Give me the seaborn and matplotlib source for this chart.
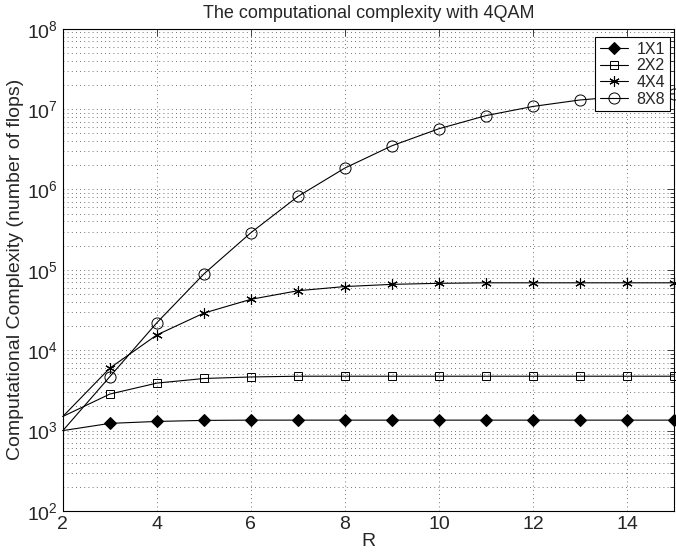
import numpy as np
import pandas as pd
import matplotlib
matplotlib.use("Agg")
import matplotlib.pyplot as plt
import seaborn as sns
from matplotlib.ticker import LogLocator, NullFormatter

R = [2, 3, 4, 5, 6, 7, 8, 9, 10, 11, 12, 13, 14, 15]
c1x1 = [1000, 1230, 1300, 1340, 1350, 1350, 1350, 1350, 1350, 1350, 1350, 1350, 1350, 1350]
c2x2 = [1500, 2850, 3900, 4450, 4650, 4750, 4750, 4750, 4750, 4750, 4750, 4750, 4750, 4750]
c4x4 = [1500, 6000, 15500, 29000, 43000, 55000, 62000, 66000, 68000, 69000, 69000, 69000, 69000, 69000]
c8x8 = [1000, 4700, 22000, 89000, 2.9e5, 8.2e5, 1.85e6, 3.5e6, 5.7e6, 8.3e6, 1.08e7, 1.3e7, 1.45e7, 1.55e7]
labels = ["1X1", "2X2", "4X4", "8X8"]

sns.set_style("white")
plt.rcParams['font.family'] = ['Liberation Sans', 'DejaVu Sans']
plt.rcParams['mathtext.default'] = 'regular'

fig = plt.figure(figsize=(6.76, 5.53), dpi=100)
ax = fig.add_axes([0.093, 0.076, 0.904, 0.872])

series = [c1x1, c2x2, c4x4, c8x8]
styles = [
    dict(marker='D', markersize=6.5, markerfacecolor='black', markeredgecolor='black'),
    dict(marker='s', markersize=5.5, markerfacecolor='none', markeredgecolor='black', markeredgewidth=0.7),
    dict(marker=(6, 2, 0), markersize=7.5, markeredgecolor='black', markeredgewidth=0.8),
    dict(marker='o', markersize=8, markerfacecolor='none', markeredgecolor='black', markeredgewidth=0.7),
]
for lab, vals, st in zip(labels, series, styles):
    df = pd.DataFrame({"R": R, "flops": vals})
    sns.lineplot(data=df, x="R", y="flops", ax=ax, color='black', linewidth=0.8,
                 label=lab, markevery=list(range(1, len(R))), clip_on=False, **st)

ax.set_yscale('log')
ax.set_xlim(2, 15)
ax.set_ylim(1e2, 1e8)
ax.set_xticks([2, 4, 6, 8, 10, 12, 14])
ax.yaxis.set_major_locator(LogLocator(base=10, numticks=10))
ax.yaxis.set_minor_locator(LogLocator(base=10, subs=np.arange(2, 10), numticks=100))
ax.yaxis.set_minor_formatter(NullFormatter())

ax.grid(True, which='major', axis='both', linestyle=(0, (1, 4)), color='#444444', linewidth=0.6)
ax.grid(True, which='minor', axis='y', linestyle=(0, (1, 4)), color='#444444', linewidth=0.6)
ax.tick_params(which='both', direction='in', top=True, right=True, labelsize=14, width=0.6)
ax.tick_params(which='major', length=5)
ax.tick_params(which='minor', length=3)
for s in ax.spines.values():
    s.set_color('black')
    s.set_linewidth(0.8)

ax.set_xlabel("R", fontsize=14, labelpad=0)
ax.set_ylabel("Computational Complexity (number of flops)", fontsize=14, labelpad=2)
ax.set_title("The computational complexity with 4QAM", fontsize=13, pad=8)

leg = ax.legend(loc='upper right', bbox_to_anchor=(0.993, 0.983), fontsize=11.5, frameon=True,
                fancybox=False, edgecolor='black', framealpha=1, borderpad=0.3,
                labelspacing=0.1, handlelength=1.8, handletextpad=0.5, borderaxespad=0)
leg.get_frame().set_linewidth(0.8)

fig.savefig("out.png", dpi=100)
